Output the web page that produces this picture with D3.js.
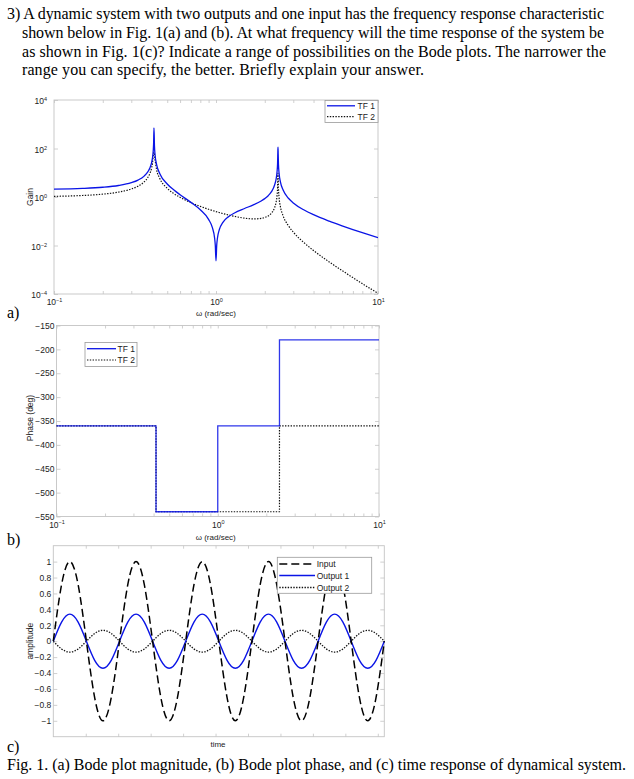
<!DOCTYPE html>
<html><head><meta charset="utf-8">
<script src="https://cdn.jsdelivr.net/npm/d3@7"></script>
<style>body{margin:0;background:#fff}svg{display:block}</style>
</head><body>
<svg id="c" width="634" height="779"></svg>
<script>
// ---------- DATA ----------
const questionLines = [
  "3) A dynamic system with two outputs and one input has the frequency response characteristic",
  "shown below in Fig. 1(a) and (b). At what frequency will the time response of the system be",
  "as shown in Fig. 1(c)? Indicate a range of possibilities on the Bode plots. The narrower the",
  "range you can specify, the better. Briefly explain your answer."
];
const captionText = "Fig. 1. (a) Bode plot magnitude, (b) Bode plot phase, and (c) time response of dynamical system.";

// (a) magnitude
const omegaTF1 = [0.1,0.15,0.2,0.25,0.3,0.33,0.36,0.38,0.39,0.40,0.405,0.41,0.412,0.4142,0.417,0.42,0.43,0.45,0.5,0.55,0.6,0.7,0.8,0.9,0.95,0.98,0.99,1.0,1.01,1.02,1.05,1.1,1.2,1.3,1.5,1.7,1.9,2.0,2.1,2.2,2.3,2.35,2.38,2.40,2.41,2.4142,2.42,2.43,2.45,2.5,2.6,2.8,3,3.5,4,5,6,7,8,10];
const gainTF1 = [2.11,2.26,2.52,2.98,3.89,4.97,7.28,11.1,15.3,25.6,39.1,84.6,160,708,126,60.4,21.7,9.17,3.43,1.93,1.24,0.60,0.296,0.119,0.0542,0.0206,0.0102,0.00234,0.00985,0.0194,0.0466,0.0876,0.158,0.220,0.336,0.473,0.684,0.857,1.13,1.66,3.11,5.53,10.4,24.9,83.9,115,61.1,22.4,9.86,4.10,1.88,0.887,0.571,0.290,0.186,0.101,0.0648,0.0455,0.0339,0.0211];
const omegaTF2 = [0.1,0.15,0.2,0.25,0.3,0.33,0.36,0.38,0.39,0.40,0.405,0.41,0.4142,0.42,0.43,0.45,0.5,0.55,0.6,0.7,0.8,0.9,1.0,1.1,1.2,1.3,1.5,1.7,1.9,2.0,2.1,2.2,2.3,2.35,2.38,2.40,2.41,2.4142,2.42,2.43,2.45,2.5,2.6,2.8,3,3.5,4,5,6,7,8,10];
const gainTF2 = [1.064,1.155,1.31,1.59,2.14,2.79,4.18,6.48,9.05,15.2,23.4,50.9,70,36.7,13.3,5.75,2.29,1.38,0.971,0.588,0.411,0.312,0.25,0.209,0.180,0.159,0.134,0.125,0.131,0.143,0.166,0.217,0.363,0.611,1.11,2.62,8.73,9.5,6.29,2.28,0.985,0.390,0.163,0.0648,0.0357,0.0129,0.00621,0.0021,0.000925,0.000474,0.000269,0.000106];
const gainTicks = [1e-4,1e-2,1,1e2,1e4];

// (b) phase (step values)
const omegaPhase1 = [0.1,0.4142,1,2.4142,10];
const phaseTF1 = [-360,-540,-360,-180,-180];
const omegaPhase2 = [0.1,0.4142,2.4142,10];
const phaseTF2 = [-360,-540,-360,-360];
const phaseTicks = [-550,-500,-450,-400,-350,-300,-250,-200,-150];

// (c) time response
const timeVals = [0,0.255,0.51,0.765,1.02,1.275,1.53,1.785,2.04,2.295,2.55,2.805,3.06,3.315,3.57,3.825,4.08,4.335,4.59,4.845,5.1,5.355,5.61,5.865,6.12,6.375,6.63,6.885,7.14,7.395,7.65,7.905,8.16,8.415,8.67,8.925,9.18,9.435,9.69,9.945,10.2];
const inputVals = [0,0.71,1,0.71,0,-0.71,-1,-0.71,0,0.71,1,0.71,0,-0.71,-1,-0.71,0,0.71,1,0.71,0,-0.71,-1,-0.71,0,0.71,1,0.71,0,-0.71,-1,-0.71,0,0.71,1,0.71,0,-0.71,-1,-0.71,0];
const output1Vals = [0,0.24,0.34,0.24,0,-0.24,-0.34,-0.24,0,0.24,0.34,0.24,0,-0.24,-0.34,-0.24,0,0.24,0.34,0.24,0,-0.24,-0.34,-0.24,0,0.24,0.34,0.24,0,-0.24,-0.34,-0.24,0,0.24,0.34,0.24,0,-0.24,-0.34,-0.24,0];
const output2Vals = [0,-0.097,-0.137,-0.097,0,0.097,0.137,0.097,0,-0.097,-0.137,-0.097,0,0.097,0.137,0.097,0,-0.097,-0.137,-0.097,0,0.097,0.137,0.097,0,-0.097,-0.137,-0.097,0,0.097,0.137,0.097,0,-0.097,-0.137,-0.097,0,0.097,0.137,0.097,0];
const ampTicks = [-1,-0.8,-0.6,-0.4,-0.2,0,0.2,0.4,0.6,0.8,1];
const timeTicks = [1,2,3,4,5,6,7,8,9,10];

// ---------- DRAWING ----------
const svg = d3.select("#c");
const SANS = "'Liberation Sans', Arial, Helvetica, sans-serif";
const SERIF = "'Liberation Serif', 'Times New Roman', serif";
const FRAME = "#c4c4c4";
const TXT = "#222";
const BLUE = "#0a14e6";

// question text
const qx = [7,22,22,22], qy = [19,38,56.5,75], qw = [597,582,584,402];
questionLines.forEach((t,i)=>{
  svg.append("text").attr("x",qx[i]).attr("y",qy[i]).attr("font-family",SERIF).attr("font-size",16)
    .attr("textLength",qw[i]).attr("lengthAdjust","spacing").attr("fill","#000").text(t);
});
[["a)",318],["b)",545],["c)",752]].forEach(([t,y])=>{
  svg.append("text").attr("x",7).attr("y",y).attr("font-family",SERIF).attr("font-size",16).attr("fill","#000").text(t);
});
svg.append("text").attr("x",7).attr("y",770).attr("font-family",SERIF).attr("font-size",16)
  .attr("textLength",619).attr("lengthAdjust","spacing").attr("fill","#000").text(captionText);

function styleAxis(g){
  g.select(".domain").remove();
  g.selectAll(".tick line").attr("stroke",FRAME).attr("stroke-width",0.8);
  g.selectAll(".tick text").attr("fill",TXT).attr("font-family",SANS).attr("font-size",8.5);
}
function supLabel(sel, anchor){
  sel.each(function(d){
    const t = d3.select(this);
    const e = Math.round(Math.log10(d));
    t.text(null).attr("text-anchor",anchor);
    t.append("tspan").text("10");
    t.append("tspan").attr("font-size",5.5).attr("dy","-0.6em").text(d3.format("")(e));
  });
}
function frame(x0,x1,y0,y1){
  svg.append("rect").attr("x",x0).attr("y",y0).attr("width",x1-x0).attr("height",y1-y0)
    .attr("fill","none").attr("stroke",FRAME).attr("stroke-width",0.9);
}
function legend(x,y,w,h,items,lineEnd,textX,rowY){
  svg.append("rect").attr("x",x).attr("y",y).attr("width",w).attr("height",h)
    .attr("fill","#fff").attr("stroke","#9a9a9a").attr("stroke-width",0.8);
  items.forEach((it,i)=>{
    svg.append("line").attr("x1",x+2).attr("x2",lineEnd).attr("y1",rowY[i]).attr("y2",rowY[i])
      .attr("stroke",it.color).attr("stroke-width",it.w).attr("stroke-dasharray",it.dash||null);
    svg.append("text").attr("x",textX).attr("y",rowY[i]+3).attr("font-family",SANS).attr("font-size",8.5)
      .attr("fill",TXT).text(it.label);
  });
}

// ===== (a) magnitude =====
const A = {l:54,r:378,t:100,b:294};
const xA = d3.scaleLog().domain([0.1,10]).range([A.l,A.r]);
const yA = d3.scaleLog().domain([1e-4,1e4]).range([A.b,A.t]);
frame(A.l,A.r,A.t,A.b);
svg.append("defs").append("clipPath").attr("id","clipA").append("rect")
  .attr("x",A.l).attr("y",A.t).attr("width",A.r-A.l).attr("height",A.b-A.t);
const xTicksLog = xA.ticks();
const decade = d=>Math.abs(Math.log10(d)-Math.round(Math.log10(d)))<1e-9;
let g = svg.append("g").attr("transform",`translate(0,${A.b})`)
  .call(d3.axisBottom(xA).tickValues(xTicksLog).tickSize(-3).tickPadding(5));
styleAxis(g);
g.selectAll(".tick text").filter(d=>!decade(d)).remove();
supLabel(g.selectAll(".tick text"),"middle");
g = svg.append("g").attr("transform",`translate(0,${A.t})`).call(d3.axisTop(xA).tickValues(xTicksLog).tickSize(-3).tickFormat(""));
styleAxis(g);
g = svg.append("g").attr("transform",`translate(${A.l},0)`).call(d3.axisLeft(yA).tickValues(gainTicks).tickSize(-4).tickPadding(7));
styleAxis(g);
supLabel(g.selectAll(".tick text"),"end");
g.selectAll(".tick text").attr("dy","0.45em");
g = svg.append("g").attr("transform",`translate(${A.r},0)`).call(d3.axisRight(yA).tickValues(gainTicks).tickSize(-4).tickFormat(""));
styleAxis(g);

const lineA = d3.line().x(d=>xA(d[0])).y(d=>yA(d[1])).curve(d3.curveMonotoneX);
svg.append("path").attr("clip-path","url(#clipA)").datum(d3.zip(omegaTF2,gainTF2)).attr("d",lineA)
  .attr("fill","none").attr("stroke","#111").attr("stroke-width",1.2).attr("stroke-dasharray","1.4,1.4");
svg.append("path").attr("clip-path","url(#clipA)").datum(d3.zip(omegaTF1,gainTF1)).attr("d",lineA)
  .attr("fill","none").attr("stroke",BLUE).attr("stroke-width",1.3);
svg.append("text").attr("x",xA(1)).attr("y",316).attr("text-anchor","middle").attr("font-family",SANS)
  .attr("font-size",8).attr("fill",TXT).text("ω (rad/sec)");
svg.append("text").attr("transform",`translate(33,${(A.t+A.b)/2}) rotate(-90)`).attr("text-anchor","middle")
  .attr("font-family",SANS).attr("font-size",8.5).attr("fill",TXT).text("Gain");
legend(325,100.5,53,22,[{label:"TF 1",color:BLUE,w:1.3},{label:"TF 2",color:"#111",w:1.2,dash:"1.4,1.4"}],355,357.5,[105.8,116.6]);

// ===== (b) phase =====
const B = {l:56.5,r:379,t:325.5,b:516.5};
const xB = d3.scaleLog().domain([0.1,10]).range([B.l,B.r]);
const yB = d3.scaleLinear().domain([-550,-150]).range([B.b,B.t]);
frame(B.l,B.r,B.t,B.b);
g = svg.append("g").attr("transform",`translate(0,${B.b})`)
  .call(d3.axisBottom(xB).tickValues(xB.ticks()).tickSize(-3).tickPadding(5));
styleAxis(g);
g.selectAll(".tick text").filter(d=>!decade(d)).remove();
supLabel(g.selectAll(".tick text"),"middle");
g = svg.append("g").attr("transform",`translate(0,${B.t})`).call(d3.axisTop(xB).tickValues(xB.ticks()).tickSize(-3).tickFormat(""));
styleAxis(g);
g = svg.append("g").attr("transform",`translate(${B.l},0)`).call(d3.axisLeft(yB).tickValues(phaseTicks).tickSize(-4).tickPadding(2));
styleAxis(g);
g = svg.append("g").attr("transform",`translate(${B.r},0)`).call(d3.axisRight(yB).tickValues(phaseTicks).tickSize(-4).tickFormat(""));
styleAxis(g);
const lineB = d3.line().x(d=>xB(d[0])).y(d=>yB(d[1])).curve(d3.curveStepAfter);
svg.append("path").datum(d3.zip(omegaPhase2,phaseTF2)).attr("d",lineB)
  .attr("fill","none").attr("stroke","#111").attr("stroke-width",1.2).attr("stroke-dasharray","1.4,1.4");
svg.append("path").datum(d3.zip(omegaPhase1,phaseTF1)).attr("d",lineB)
  .attr("fill","none").attr("stroke",BLUE).attr("stroke-width",1.3).attr("stroke-opacity",0.85);
svg.append("text").attr("x",xB(1)-2).attr("y",540).attr("text-anchor","middle").attr("font-family",SANS)
  .attr("font-size",8).attr("fill",TXT).text("ω (rad/sec)");
svg.append("text").attr("transform",`translate(33,418) rotate(-90)`).attr("text-anchor","middle")
  .attr("font-family",SANS).attr("font-size",8.5).attr("fill",TXT).text("Phase (deg)");
legend(85,342.5,52,24,[{label:"TF 1",color:BLUE,w:1.3},{label:"TF 2",color:"#111",w:1.2,dash:"1.4,1.4"}],116,117.5,[348.7,360]);

// ===== (c) time response =====
const C = {l:53.3,r:384.3,t:545.7,b:736.7};
const xC = d3.scaleLinear().domain([0,10.2]).range([C.l,C.r]);
const yC = d3.scaleLinear().domain([-1.2,1.2]).range([C.b,C.t]);
frame(C.l,C.r,C.t,C.b);
g = svg.append("g").attr("transform",`translate(0,${C.b})`).call(d3.axisBottom(xC).tickValues(timeTicks).tickSize(-3).tickFormat(""));
styleAxis(g);
g = svg.append("g").attr("transform",`translate(0,${C.t})`).call(d3.axisTop(xC).tickValues(timeTicks).tickSize(-3).tickFormat(""));
styleAxis(g);
g = svg.append("g").attr("transform",`translate(${C.l},0)`).call(d3.axisLeft(yC).tickValues(ampTicks).tickSize(-4).tickPadding(2).tickFormat(d3.format("~g")));
styleAxis(g);
g = svg.append("g").attr("transform",`translate(${C.r},0)`).call(d3.axisRight(yC).tickValues(ampTicks).tickSize(-4).tickFormat(""));
styleAxis(g);
const lineC = d3.line().x(d=>xC(d[0])).y(d=>yC(d[1])).curve(d3.curveNatural);
svg.append("path").datum(d3.zip(timeVals,output2Vals)).attr("d",lineC)
  .attr("fill","none").attr("stroke","#111").attr("stroke-width",1.3).attr("stroke-dasharray","1.4,1.4");
svg.append("path").datum(d3.zip(timeVals,output1Vals)).attr("d",lineC)
  .attr("fill","none").attr("stroke",BLUE).attr("stroke-width",1.4);
svg.append("path").datum(d3.zip(timeVals,inputVals)).attr("d",lineC)
  .attr("fill","none").attr("stroke","#000").attr("stroke-width",1.5).attr("stroke-dasharray","8,4");
svg.append("text").attr("x",218).attr("y",747).attr("text-anchor","middle").attr("font-family",SANS)
  .attr("font-size",8).attr("fill",TXT).text("time");
svg.append("text").attr("transform",`translate(33,${(C.t+C.b)/2}) rotate(-90)`).attr("text-anchor","middle")
  .attr("font-family",SANS).attr("font-size",8.5).attr("fill",TXT).text("amplitude");
legend(277.3,557.3,94.4,36,[{label:"Input",color:"#000",w:1.5,dash:"8,4"},{label:"Output 1",color:BLUE,w:1.4},{label:"Output 2",color:"#111",w:1.3,dash:"1.4,1.4"}],315,316.7,[564,575.5,587.5]);
</script>
</body></html>
